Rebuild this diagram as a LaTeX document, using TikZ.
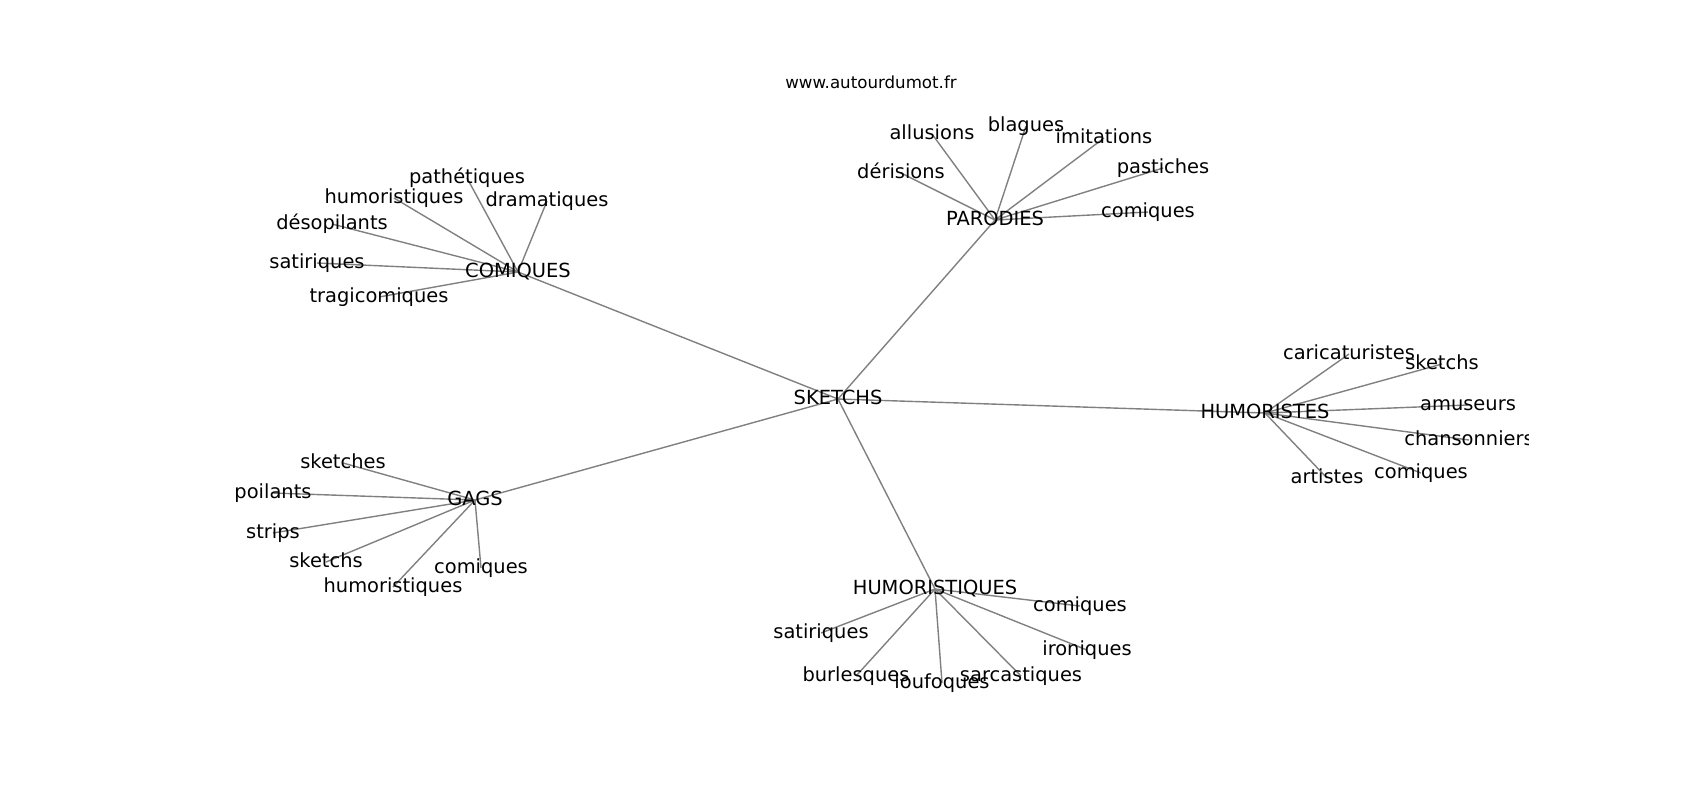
\documentclass[tikz,border=0pt]{standalone}
\usepackage{fontspec}
\setmainfont{DejaVu Sans}
\usetikzlibrary{backgrounds}
\begin{document}
\begin{tikzpicture}[x=0.5pt,y=-0.5pt,
  lbl/.style={inner sep=0pt, text height=0.76em, text depth=0.208em, font=\fontsize{9.72}{11}\selectfont},
  ttl/.style={inner sep=0pt, text height=0.76em, text depth=0.208em, font=\fontsize{8.33}{10}\selectfont},
  edge/.style={draw=gray, line width=0.7pt}]
\useasboundingbox (0,0) rectangle (1700,800);
\node[ttl] (title) at (871,83) {www.autourdumot.fr};
% hubs
\node[lbl] (s)  at (838,399) {SKETCHS};
\node[lbl] (co) at (518,272) {COMIQUES};
\node[lbl] (pa) at (995,220) {PARODIES};
\node[lbl] (hu) at (1265,413) {HUMORISTES};
\node[lbl] (ga) at (475,500) {GAGS};
\node[lbl] (hq) at (935,589) {HUMORISTIQUES};
% COMIQUES
\node[lbl] (co1) at (467,178) {pathétiques};
\node[lbl] (co2) at (394,198) {humoristiques};
\node[lbl] (co3) at (547,201) {dramatiques};
\node[lbl] (co4) at (332,224) {désopilants};
\node[lbl] (co5) at (317,263) {satiriques};
\node[lbl] (co6) at (379,297) {tragicomiques};
% PARODIES
\node[lbl] (pa1) at (932,134) {allusions};
\node[lbl] (pa2) at (1026,126) {blagues};
\node[lbl] (pa3) at (1104,138) {imitations};
\node[lbl] (pa4) at (1163,168) {pastiches};
\node[lbl] (pa5) at (901,173) {dérisions};
\node[lbl] (pa6) at (1148,212) {comiques};
% HUMORISTES
\node[lbl] (hu1) at (1349,354) {caricaturistes};
\node[lbl] (hu2) at (1442,364) {sketchs};
\node[lbl] (hu3) at (1468,405) {amuseurs};
\begin{scope}
\clip (0,0) rectangle (1528,800);
\node[lbl] (hu4) at (1469,440) {chansonniers};
\end{scope}
\node[lbl] (hu5) at (1327,478) {artistes};
\node[lbl] (hu6) at (1421,473) {comiques};
% GAGS
\node[lbl] (ga1) at (343,463) {sketches};
\node[lbl] (ga2) at (273,493) {poilants};
\node[lbl] (ga3) at (273,533) {strips};
\node[lbl] (ga4) at (326,562) {sketchs};
\node[lbl] (ga5) at (481,568) {comiques};
\node[lbl] (ga6) at (393,587) {humoristiques};
% HUMORISTIQUES
\node[lbl] (hq1) at (1080,606) {comiques};
\node[lbl] (hq2) at (821,633) {satiriques};
\node[lbl] (hq3) at (1087,650) {ironiques};
\node[lbl] (hq4) at (856,676) {burlesques};
\node[lbl] (hq5) at (942,683) {loufoques};
\node[lbl] (hq6) at (1021,676) {sarcastiques};
\begin{scope}[on background layer]
\foreach \h in {co,pa,hu,ga,hq}{
  \draw[edge] (s.center) -- (\h.center);
  \foreach \i in {1,...,6}{
    \draw[edge] (\h.center) -- (\h\i.center);
  }
}
\end{scope}
\end{tikzpicture}
\end{document}
